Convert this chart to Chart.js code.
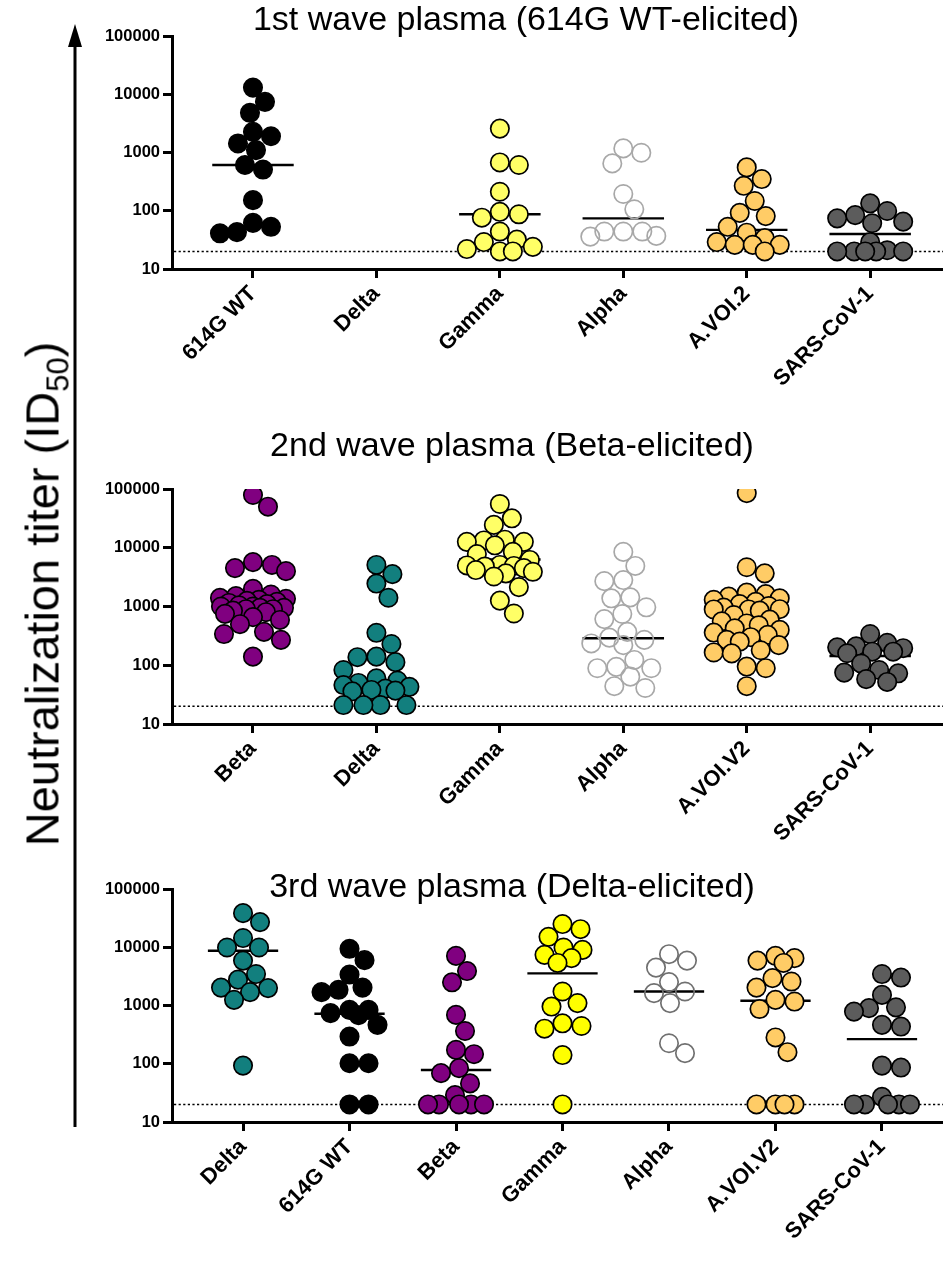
<!DOCTYPE html>
<html>
<head>
<meta charset="utf-8">
<title>Neutralization titers by plasma wave</title>
<script src="https://cdn.jsdelivr.net/npm/chart.js@4.4.1/dist/chart.umd.min.js"></script>
<style>
  html, body { margin: 0; padding: 0; background: #fff; }
  body { width: 943px; height: 1261px; position: relative; overflow: hidden;
         font-family: "Liberation Sans", Arial, Helvetica, sans-serif; color: #000; }
  canvas.panel { position: absolute; left: 0; }
  .ptitle { position: absolute; font-size: 34px; line-height: 1; white-space: nowrap;
            transform: translateX(-50%); z-index: 2; }
  #ytitle { position: absolute; left: 42px; top: 594px; font-size: 47px; line-height: 1;
            white-space: nowrap; transform: translate(-50%, -50%) rotate(-90deg); z-index: 2; }
  #ytitle sub { font-size: 31px; vertical-align: -0.32em; line-height: 0; }
  svg.arrow { position: absolute; left: 0; top: 0; }
</style>
</head>
<body>
<svg class="arrow" width="943" height="1261">
  <line x1="75" y1="1127" x2="75" y2="44" stroke="#000" stroke-width="3"/>
  <polygon points="75,24 68,47 82,47" fill="#000"/>
</svg>
<div id="ytitle">Neutralization titer (ID<sub>50</sub>)</div>

<canvas id="wave1" class="panel" width="943" height="420" style="top:0px"></canvas>
<canvas id="wave2" class="panel" width="943" height="430" style="top:440px"></canvas>
<canvas id="wave3" class="panel" width="943" height="395" style="top:866px"></canvas>

<div class="ptitle" style="left:526px; top:1px">1st wave plasma (614G WT-elicited)</div>
<div class="ptitle" style="left:512px; top:427px">2nd wave plasma (Beta-elicited)</div>
<div class="ptitle" style="left:512px; top:868px">3rd wave plasma (Delta-elicited)</div>

<script>
// ---- y axis ----
const yTickValues = [10, 100, 1000, 10000, 100000];
const yTickLabels = ['10', '100', '1000', '10000', '100000'];
const detectionLimit = 20;

// ---- 1st wave plasma (614G WT-elicited) ----
const wave1Variants = ['614G WT', 'Delta', 'Gamma', 'Alpha', 'A.VOI.2', 'SARS-CoV-1'];
const wave1WT    = [13000, 7400, 4800, 2260, 1900, 1430, 1100, 610, 510, 152, 62, 53, 43, 41];
const wave1Delta = [];
const wave1Gamma = [2570, 675, 610, 212, 96, 87, 76, 44, 32, 29, 24, 22, 20, 20];
const wave1Alpha = [1175, 990, 650, 194, 106, 44, 44, 44, 37, 36];
const wave1AVOI  = [555, 350, 268, 147, 92, 81, 53, 42, 34, 29, 26, 26, 26, 20];
const wave1SARS  = [134, 99, 84, 74, 65, 61, 29, 21, 20, 20, 20, 20, 20];
const wave1Medians = [610, null, 87, 74, 47, 40];

// ---- 2nd wave plasma (Beta-elicited) ----
const wave2Variants = ['Beta', 'Delta', 'Gamma', 'Alpha', 'A.VOI.V2', 'SARS-CoV-1'];
const wave2Beta  = [79000, 50000, 5700, 5100, 4500, 4000, 2000, 1600, 1500, 1400, 1350, 1300, 1250,
                    1200, 1150, 1100, 1050, 1000, 1000, 950, 950, 900, 900, 850, 800, 750, 660, 590,
                    500, 370, 340, 270, 140];
const wave2Delta = [5100, 3550, 2460, 1410, 357, 230, 140, 137, 113, 83, 60, 55, 50, 46, 43, 40,
                    38, 37, 36, 21, 21, 21, 21];
const wave2Gamma = [55600, 31700, 24500, 13700, 13300, 12600, 12600, 11000, 8500, 7800, 6200, 5100,
                    5000, 4900, 4800, 4500, 4170, 3900, 3670, 3240, 2140, 1260, 760];
const wave2Alpha = [8500, 4900, 2820, 2700, 1430, 1380, 970, 745, 610, 370, 295, 270, 235, 220, 123,
                    94, 89, 89, 64, 44, 41];
const wave2AVOI  = [85000, 4660, 3670, 1720, 1630, 1470, 1380, 1300, 1200, 1100, 1020, 960, 900, 890,
                    890, 850, 716, 600, 560, 515, 480, 425, 400, 360, 330, 300, 270, 252, 220, 180,
                    165, 159, 95, 89, 44];
const wave2SARS  = [340, 240, 210, 202, 195, 170, 170, 160, 107, 83, 75, 73, 58, 52];
const wave2Medians = [1300, 52, 6300, 288, 745, 144];

// ---- 3rd wave plasma (Delta-elicited) ----
const wave3Variants = ['Delta', '614G WT', 'Beta', 'Gamma', 'Alpha', 'A.VOI.V2', 'SARS-CoV-1'];
const wave3Delta = [38500, 27000, 14400, 9900, 9900, 5900, 3470, 2780, 2030, 1990, 1700, 1250, 93];
const wave3WT    = [9400, 6000, 3400, 2030, 1860, 1700, 840, 840, 740, 680, 465, 293, 102, 102, 20, 20];
const wave3Beta  = [7100, 3900, 2500, 690, 365, 173, 146, 84, 69, 46, 29, 20, 20, 20, 20, 20];
const wave3Gamma = [25000, 20400, 15100, 9900, 9000, 7400, 6500, 5380, 1740, 1100, 960, 495, 445,
                    400, 141, 20];
const wave3Alpha = [7600, 5900, 4470, 2520, 1740, 1630, 1100, 225, 152];
const wave3AVOI  = [7100, 6500, 5900, 5380, 2950, 2580, 2030, 1250, 1170, 870, 283, 158, 20, 20, 20, 20];
const wave3SARS  = [3470, 3020, 1520, 930, 900, 785, 465, 435, 93, 86, 27, 20, 20, 20, 20, 20];
const wave3Medians = [8700, 720, 78, 3560, 1740, 1210, 265];

// ---- marker styles per variant ----
const FONT = '"Liberation Sans", Arial, Helvetica, sans-serif';
const variantStyle = {
  '614G WT':    { fill: '#000000', stroke: '#000000' },
  'Delta':      { fill: '#127F7E', stroke: '#000000' },
  'Gamma':      { fill: '#FFFF66', stroke: '#000000' },
  'Alpha':      { fill: 'rgba(255,255,255,0)', stroke: '#A8A8A8' },
  'A.VOI.2':    { fill: '#FFCC66', stroke: '#000000' },
  'A.VOI.V2':   { fill: '#FFCC66', stroke: '#000000' },
  'SARS-CoV-1': { fill: '#5C5C5C', stroke: '#000000' },
  'Beta':       { fill: '#800080', stroke: '#000000' }
};
const wave3Style = Object.assign({}, variantStyle, {
  'Gamma': { fill: '#FFFF00', stroke: '#000000' },
  'Alpha': { fill: 'rgba(255,255,255,0)', stroke: '#707070' }
});

const POINT_R = 9.2;
const MEDIAN_HALF = 0.33;

// dotted limit-of-detection line, drawn under the markers
const detectionLinePlugin = {
  id: 'detectionLine',
  beforeDatasetsDraw(chart) {
    const { ctx, chartArea, scales } = chart;
    const y = scales.y.getPixelForValue(detectionLimit);
    ctx.save();
    ctx.strokeStyle = '#000';
    ctx.lineWidth = 1.6;
    ctx.setLineDash([2.2, 2.4]);
    ctx.beginPath();
    ctx.moveTo(chartArea.left + 2, y);
    ctx.lineTo(chartArea.right, y);
    ctx.stroke();
    ctx.restore();
  }
};

function buildPanel(id, variants, series, medians, styles, xMin, xMax, padTop, axisHeight) {
  const datasets = [];
  variants.forEach((name, i) => {
    const st = styles[name];
    datasets.push({
      type: 'scatter',
      label: name,
      column: i,
      data: series[i].map(v => ({ x: i, y: v })),
      pointRadius: POINT_R,
      pointHoverRadius: POINT_R,
      pointBorderWidth: 1.7,
      pointBackgroundColor: st.fill,
      pointBorderColor: st.stroke,
      backgroundColor: st.fill,
      borderColor: st.stroke,
      showLine: false,
      order: 1
    });
  });
  variants.forEach((name, i) => {
    if (medians[i] == null) return;
    datasets.push({
      type: 'line',
      label: name + ' median',
      data: [{ x: i - MEDIAN_HALF, y: medians[i] }, { x: i + MEDIAN_HALF, y: medians[i] }],
      borderColor: '#000',
      borderWidth: 2.4,
      pointRadius: 0,
      showLine: true,
      fill: false,
      order: 2
    });
  });

  const chart = new Chart(document.getElementById(id), {
    type: 'scatter',
    data: { datasets },
    plugins: [detectionLinePlugin],
    options: {
      responsive: false,
      animation: false,
      events: [],
      devicePixelRatio: 1,
      layout: { autoPadding: false, padding: { top: padTop, left: 0, right: 0, bottom: 0 } },
      plugins: { legend: { display: false }, tooltip: { enabled: false }, title: { display: false } },
      scales: {
        x: {
          type: 'linear',
          min: xMin,
          max: xMax,
          afterBuildTicks: s => { s.ticks = variants.map((_, i) => ({ value: i })); },
          afterFit: s => { s.height = axisHeight; s.paddingLeft = 0; s.paddingRight = 0; },
          ticks: {
            autoSkip: false,
            minRotation: 45,
            maxRotation: 45,
            padding: 3,
            color: '#000',
            font: { family: FONT, size: 22, weight: 'bold' },
            callback: v => variants[Math.round(v)]
          },
          grid: { drawOnChartArea: false, drawTicks: true, tickLength: 9, lineWidth: 3, color: '#000' },
          border: { display: true, width: 3, color: '#000' }
        },
        y: {
          type: 'logarithmic',
          min: 10,
          max: 100000,
          afterBuildTicks: s => { s.ticks = yTickValues.map(v => ({ value: v })); },
          afterFit: s => { s.width = 172; s.paddingTop = 0; s.paddingBottom = 0; },
          ticks: {
            autoSkip: false,
            padding: 3,
            color: '#000',
            font: { family: FONT, size: 16.5, weight: 'bold' },
            callback: v => yTickLabels[yTickValues.indexOf(v)]
          },
          grid: { drawOnChartArea: false, drawTicks: true, tickLength: 9, lineWidth: 3, color: '#000' },
          border: { display: true, width: 3, color: '#000' }
        }
      }
    }
  });
  spreadColumns(chart);
  return chart;
}

// scatter the points of each column sideways so that markers sit next to each other
function spreadColumns(chart) {
  const xs = chart.scales.x, ys = chart.scales.y;
  const unit = xs.getPixelForValue(1) - xs.getPixelForValue(0);
  const half = Math.floor(0.27 * unit);
  const gap = 2 * POINT_R;
  chart.data.datasets.forEach(ds => {
    if (ds.type !== 'scatter') return;
    const py = ds.data.map(p => ys.getPixelForValue(p.y));
    const idx = py.map((_, k) => k).sort((a, b) => py[a] - py[b]);
    const placed = [];
    idx.forEach(k => {
      let chosen = 0, best = -1;
      for (let s = 0; s <= 2 * half; s++) {
        const off = (s % 2 ? 1 : -1) * Math.ceil(s / 2);
        let d = Infinity;
        placed.forEach(p => { d = Math.min(d, Math.hypot(p.x - off, p.y - py[k])); });
        if (d >= gap) { chosen = off; best = d; break; }
        if (d > best + 0.5) { best = d; chosen = off; }
      }
      placed.push({ x: chosen, y: py[k] });
      ds.data[k].x = ds.column + chosen / unit;
    });
  });
  chart.update('none');
}

buildPanel('wave1', wave1Variants,
  [wave1WT, wave1Delta, wave1Gamma, wave1Alpha, wave1AVOI, wave1SARS],
  wave1Medians, variantStyle, -0.656, 5.59, 36, 151);

buildPanel('wave2', wave2Variants,
  [wave2Beta, wave2Delta, wave2Gamma, wave2Alpha, wave2AVOI, wave2SARS],
  wave2Medians, variantStyle, -0.656, 5.59, 49, 146);

buildPanel('wave3', wave3Variants,
  [wave3Delta, wave3WT, wave3Beta, wave3Gamma, wave3Alpha, wave3AVOI, wave3SARS],
  wave3Medians, wave3Style, -0.667, 6.573, 23, 139);
</script>
</body>
</html>
